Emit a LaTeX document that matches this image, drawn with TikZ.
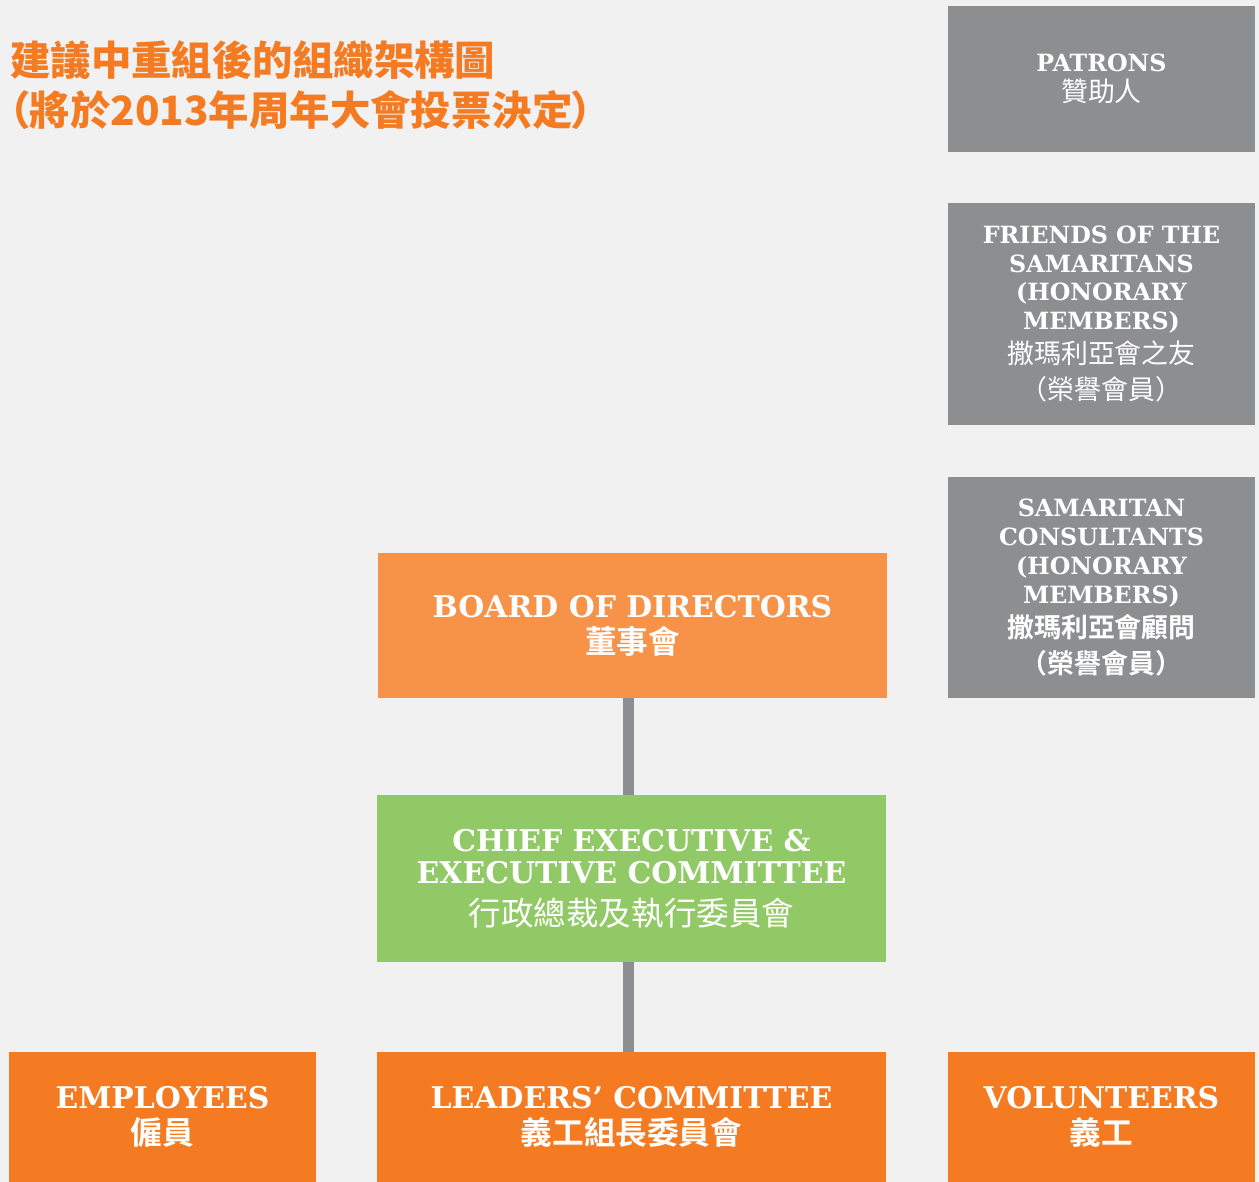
\documentclass[tikz,border=0pt]{standalone}
\usepackage{fontspec}
\setmainfont{DejaVu Serif}
\newfontfamily\cjk{Noto Sans CJK TC}[BoldFont={Noto Sans CJK TC Bold}]
\newfontfamily\cjkheavy{Noto Sans CJK TC Black}

\definecolor{pagebg}{HTML}{F1F1F1}
\definecolor{boxgray}{HTML}{8D8E90}
\definecolor{lightorange}{HTML}{F79349}
\definecolor{deeporange}{HTML}{F47B22}
\definecolor{leafgreen}{HTML}{92C967}

% Chinese line inside a box: regular and bold
\newcommand{\zh}[2]{{\cjk\mdseries\fontsize{#1}{#1}\selectfont #2}}
\newcommand{\zhb}[2]{{\cjk\bfseries\fontsize{#1}{#1}\selectfont #2}}

\begin{document}
\begin{tikzpicture}[
    x=0.02cm, y=-0.02cm,
    box/.style={rectangle, text=white, align=center, inner sep=0pt,
        font=\bfseries\fontsize{17}{18.5}\selectfont},
    sidebox/.style={box, fill=boxgray, minimum width=6.14cm,
        font=\bfseries\fontsize{13.5}{16.4}\selectfont},
    mainbox/.style={box, minimum width=10.18cm},
    unitbox/.style={box, fill=deeporange, minimum height=2.6cm},
    link/.style={draw=boxgray, line width=5.7pt},
    heading/.style={anchor=west, text=deeporange, inner sep=0pt,
        font=\cjkheavy\fontsize{23}{23}\selectfont}
]

% Page
\useasboundingbox (0,0) rectangle (1259,1182);
\fill[pagebg] (0,0) rectangle (1259,1182);

% Heading (proportional brackets on the second line)
\node[heading] (head1) at (10,60) {建議中重組後的組織架構圖};
\node[heading] (head2) at (9,110)
    {\addfontfeature{RawFeature=+palt}（將於2013年周年大會投票決定）};

% Honorary column
\node[sidebox, minimum height=2.92cm] (patrons) at (1101.5,79)
    {PATRONS\\[1pt]\zh{15.3}{贊助人}};
\node[sidebox, minimum height=4.44cm] (friends) at (1101.5,314)
    {FRIENDS OF THE\\SAMARITANS\\(HONORARY\\MEMBERS)\\[3pt]
     \zh{15.3}{撒瑪利亞會之友}\\[4pt]\zh{15.3}{（榮譽會員）}};
\node[sidebox, minimum height=4.42cm] (consult) at (1101.5,587.5)
    {SAMARITAN\\CONSULTANTS\\(HONORARY\\MEMBERS)\\[3pt]
     \zhb{15.3}{撒瑪利亞會顧問}\\[4pt]\zhb{15.3}{（榮譽會員）}};

% Governance
\node[mainbox, fill=lightorange, minimum height=2.9cm] (board) at (632.5,625.5)
    {BOARD OF DIRECTORS\\[2pt]\zhb{18}{董事會}};
\node[mainbox, fill=leafgreen, minimum height=3.34cm] (chief) at (631.5,878.5)
    {CHIEF EXECUTIVE \&\\EXECUTIVE COMMITTEE\\[5pt]\zh{18.5}{行政總裁及執行委員會}};

% Units
\node[unitbox, minimum width=6.14cm] (staff) at (162.5,1117)
    {EMPLOYEES\\[2pt]\zhb{18}{僱員}};
\node[unitbox, minimum width=10.18cm] (leaders) at (631.5,1117)
    {LEADERS’ COMMITTEE\\[2pt]\zhb{18}{義工組長委員會}};
\node[unitbox, minimum width=6.14cm] (volunteers) at (1101.5,1117)
    {VOLUNTEERS\\[2pt]\zhb{18}{義工}};

% Connectors
\draw[link] ([xshift=-0.08cm]board.south) -- ([xshift=-0.08cm]board.south |- chief.north);
\draw[link] ([xshift=-0.06cm]chief.south) -- ([xshift=-0.06cm]chief.south |- leaders.north);

\end{tikzpicture}
\end{document}
